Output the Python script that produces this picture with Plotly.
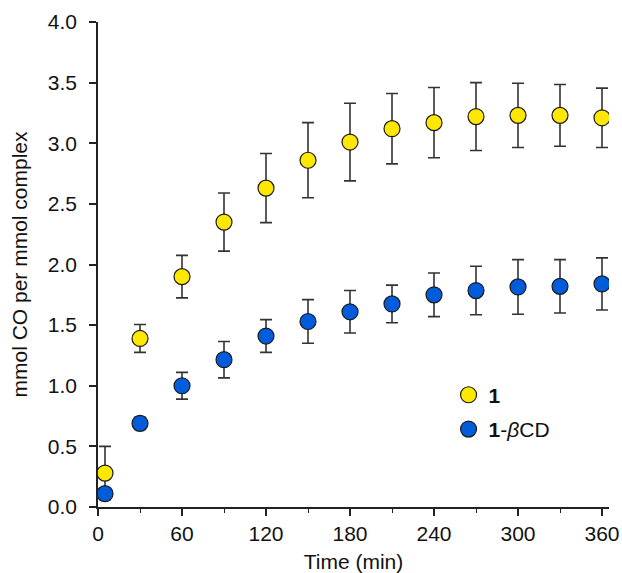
import plotly.graph_objects as go

time_min = [5, 30, 60, 90, 120, 150, 180, 210, 240, 270, 300, 330, 360]

co_1 = [0.28, 1.39, 1.90, 2.35, 2.63, 2.86, 3.01, 3.12, 3.17, 3.22, 3.23, 3.23, 3.21]
err_1 = [0.22, 0.115, 0.175, 0.24, 0.285, 0.31, 0.32, 0.29, 0.29, 0.28, 0.265, 0.255, 0.245]

co_1b = [0.11, 0.69, 1.00, 1.215, 1.41, 1.53, 1.61, 1.675, 1.75, 1.785, 1.815, 1.82, 1.84]
err_1b = [0.03, 0.05, 0.11, 0.15, 0.135, 0.18, 0.175, 0.155, 0.18, 0.2, 0.225, 0.22, 0.215]

x_ticks = [0, 60, 120, 180, 240, 300, 360]
x_minor = [30, 90, 150, 210, 270, 330]
y_ticks = [0.0, 0.5, 1.0, 1.5, 2.0, 2.5, 3.0, 3.5, 4.0]

FONT = "Liberation Sans, Arial, Helvetica, sans-serif"
FS = 21

fig = go.Figure()
fig.add_trace(go.Scatter(
    x=time_min, y=co_1, mode="markers", name="<b>1</b>",
    legendgroup="a",
    marker=dict(size=16, color="#FFE800", line=dict(color="#1a1a1a", width=1.2)),
    error_y=dict(type="data", array=err_1, visible=True, color="#333333", thickness=1.6, width=6),
))
fig.add_trace(go.Scatter(
    x=time_min, y=co_1b, mode="markers", name="<b>1</b>-<i>β</i>CD",
    legendgroup="b",
    marker=dict(size=16, color="#005CDB", line=dict(color="#1a1a1a", width=1.2)),
    error_y=dict(type="data", array=err_1b, visible=True, color="#333333", thickness=1.6, width=6),
))

fig.update_layout(
    width=622, height=573,
    margin=dict(l=98, r=13, t=22, b=66, autoexpand=False),
    paper_bgcolor="white", plot_bgcolor="white",
    font=dict(family=FONT, size=FS, color="#111111"),
    showlegend=True,
    legend=dict(x=0.686, y=0.273, xanchor="left", yanchor="top",
                font=dict(size=FS), tracegroupgap=4, bgcolor="rgba(0,0,0,0)"),
    xaxis=dict(
        automargin=False,
        range=[0, 365], tickvals=x_ticks, ticktext=[str(v) for v in x_ticks],
        showline=True, linecolor="#222222", linewidth=1.5,
        ticks="outside", ticklen=7, tickwidth=1.5, tickcolor="#222222",
        minor=dict(tickvals=x_minor, ticks="outside", ticklen=4, tickwidth=1.3, tickcolor="#222222"),
        showgrid=False, zeroline=False,
        title=dict(text="Time (min)", font=dict(size=FS), standoff=16),
        tickfont=dict(size=FS),
    ),
    yaxis=dict(
        automargin=False,
        range=[0, 4], tickvals=y_ticks, ticktext=[f"{v:.1f}" for v in y_ticks],
        showline=True, linecolor="#222222", linewidth=1.5,
        ticks="outside", ticklen=7, tickwidth=1.5, tickcolor="#222222",
        ticklabelstandoff=8,
        showgrid=False, zeroline=False,
        title=dict(text="mmol CO per mmol complex", font=dict(size=FS), standoff=14),
        tickfont=dict(size=FS),
    ),
)

fig.write_html("out.html", config={"displayModeBar": False},
               post_script="document.body.style.margin='0px';")
